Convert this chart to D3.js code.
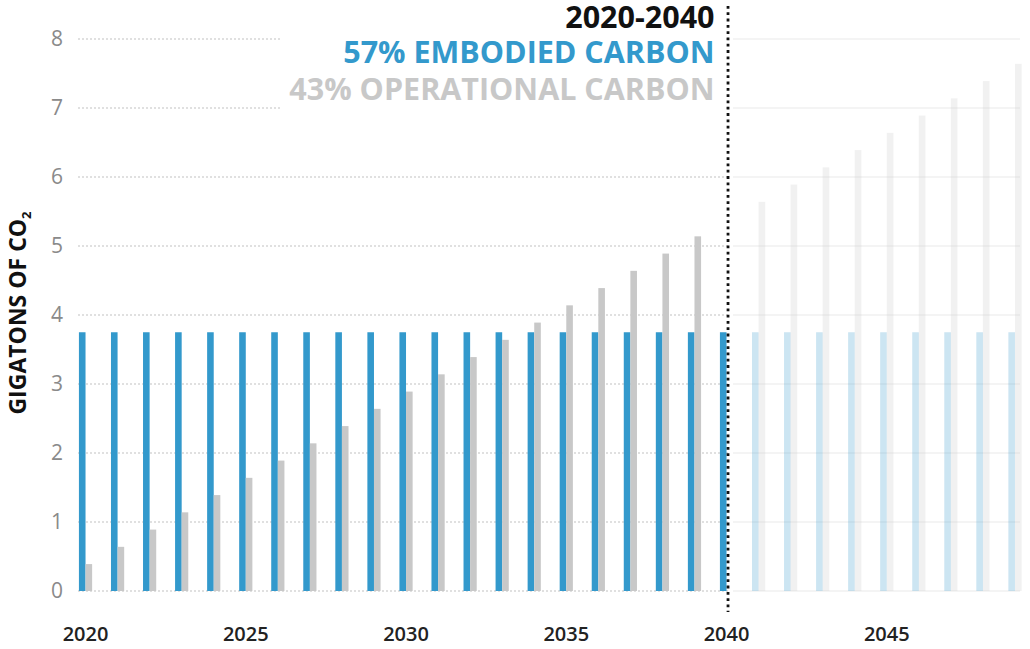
<!DOCTYPE html>
<html><head><meta charset="utf-8">
<script src="https://cdn.jsdelivr.net/npm/d3@7"></script>
<style>
html,body{margin:0;padding:0;background:#fff;}
svg{display:block;font-family:"Open Sans",sans-serif;}
</style></head>
<body>
<svg id="chart" width="1030" height="649"></svg>
<script>
// ---- data ----
const years = d3.range(2020, 2050);
const embodied = [3.75,3.75,3.75,3.75,3.75,3.75,3.75,3.75,3.75,3.75,3.75,3.75,3.75,3.75,3.75,3.75,3.75,3.75,3.75,3.75,3.75,3.75,3.75,3.75,3.75,3.75,3.75,3.75,3.75,3.75];
const operational = [0.39,0.64,0.89,1.14,1.39,1.64,1.89,2.14,2.39,2.64,2.89,3.14,3.39,3.64,3.89,4.14,4.39,4.64,4.89,5.14,null,5.64,5.89,6.14,6.39,6.64,6.89,7.14,7.39,7.64];
const yTicks = [0,1,2,3,4,5,6,7,8];
const xTickYears = [2020,2025,2030,2035,2040,2045];
const legendLines = ["2020-2040","57% EMBODIED CARBON","43% OPERATIONAL CARBON"];
const splitYear = 2040;

const BLUE = "#3399cc", GRAY = "#c8c8c8";

const svg = d3.select("#chart");
const y = d3.scaleLinear().domain([0,8]).range([591,39]);
const x = d3.scaleBand().domain(years).range([69.5,1031]).padding(0);
const sub = d3.scaleBand().domain(["embodied","operational"]).range([x.bandwidth()/2-6.6, x.bandwidth()/2+6.6]).padding(0);

// grid lines
const grid = svg.append("g");
yTicks.forEach(t=>{
  grid.append("line").attr("x1",78).attr("x2",728).attr("y1",y(t)).attr("y2",y(t))
    .attr("stroke","#d6d6d6").attr("stroke-width",1.3).attr("stroke-dasharray","2,2");
  grid.append("line").attr("x1",733).attr("x2",1020).attr("y1",y(t)).attr("y2",y(t))
    .attr("stroke","#f1f1f1").attr("stroke-width",1.3);
});

// y axis
const yAxis = d3.axisLeft(y).tickValues(yTicks).tickSize(0).tickPadding(0).tickFormat(d3.format("d"));
const gy = svg.append("g").attr("transform","translate(63,0)").call(yAxis);
gy.select(".domain").remove();
gy.selectAll("text").attr("fill","#8a8a8a").style("font-size","21px").style("font-family","Open Sans");

// x axis
const xAxis = d3.axisBottom(x).tickValues(xTickYears).tickSize(0).tickPadding(0);
const gx = svg.append("g").attr("transform","translate(0,627)").call(xAxis);
gx.select(".domain").remove();
gx.selectAll("text").attr("fill","#222").style("font-size","20px").style("font-weight","600").style("font-family","Open Sans");

// bars
const rows = years.map((yr,i)=>({year:yr, embodied:embodied[i], operational:operational[i]}));
const bars = svg.append("g");
rows.forEach(r=>{
  const fade = r.year > splitYear ? 0.25 : 1;
  [["embodied",BLUE],["operational",GRAY]].forEach(([k,c])=>{
    if(r[k]==null) return;
    bars.append("rect")
      .attr("x", x(r.year)+sub(k))
      .attr("width", sub.bandwidth())
      .attr("y", y(r[k]))
      .attr("height", y(0)-y(r[k]))
      .attr("fill", c).attr("opacity", fade);
  });
});

// legend
const lx = x(splitYear)+x.bandwidth()/2 - 12;
svg.append("rect").attr("x",282).attr("y",0).attr("width",lx-282+10).attr("height",112).attr("fill","#fff");
const lg = svg.append("g").attr("text-anchor","end").style("font-weight","700");
const lcol = ["#111", BLUE, GRAY];
const lbase = [28,63,100];
legendLines.forEach((t,i)=>{
  lg.append("text").attr("x",lx).attr("y",lbase[i]).attr("fill",lcol[i]).style("font-size","30.5px").text(t);
});

// divider
const dx = x(splitYear)+x.bandwidth()/2 + 1.5;
svg.append("line").attr("x1",dx).attr("x2",dx).attr("y1",6).attr("y2",612)
  .attr("stroke","#111").attr("stroke-width",2.8).attr("stroke-dasharray","2.8,3.5");

// y title
const yt = svg.append("text").attr("transform","translate(26,313) rotate(-90)")
  .attr("text-anchor","middle").style("font-weight","700").style("font-size","23px").attr("fill","#111");
yt.append("tspan").text("GIGATONS OF CO");
yt.append("tspan").text("2").style("font-size","13px").attr("dy","5");
</script>
</body></html>
